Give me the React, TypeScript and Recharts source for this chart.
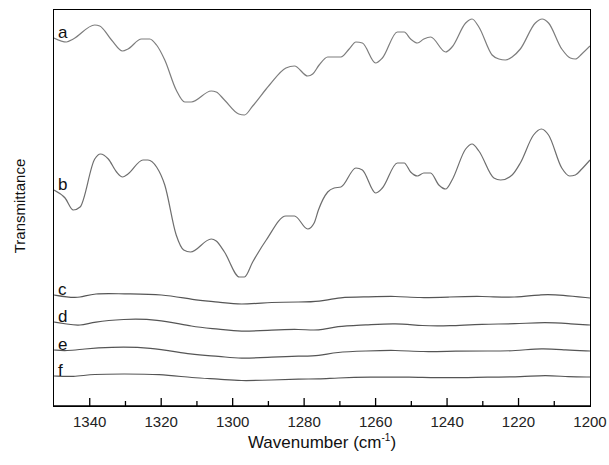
import { LineChart, Line, XAxis, YAxis, ReferenceLine } from "recharts";

// [wavenumber, transmittance (arb.)]
const curveA: [number, number][] = [
  [1350, 368], [1346.5, 364], [1344.6, 367], [1338.6, 381], [1337.2, 380], [1333.9, 366], [1330.8, 355],
  [1329.3, 357], [1325.5, 367], [1323.2, 367], [1321.3, 361], [1319, 346], [1315.8, 316], [1313.4, 304],
  [1311.6, 304], [1306, 315], [1304.6, 314], [1302.3, 306], [1298.3, 292], [1296.7, 291], [1294.4, 300],
  [1289.7, 321], [1285.1, 338], [1282.7, 340], [1279, 330], [1277.6, 332], [1275.8, 341], [1273.4, 349],
  [1269.7, 349], [1267.4, 357], [1265.5, 364], [1263.7, 363], [1260, 343], [1258.1, 348], [1253.9, 374],
  [1252, 374], [1250.2, 367], [1248.3, 363], [1246.5, 367], [1244.6, 369], [1240.4, 354], [1238.6, 359],
  [1234.8, 383], [1233, 387], [1231.1, 379], [1227.4, 351], [1225.5, 347], [1223.7, 346], [1221.8, 349],
  [1219.5, 357], [1215.3, 383], [1213.4, 387], [1211.6, 383], [1207.9, 357], [1205.5, 348], [1204.1, 347],
  [1202.3, 352], [1200, 360],
];

const curveB: [number, number][] = [
  [1350, 216], [1346.9, 208], [1344.6, 196], [1342.7, 199], [1338.6, 247], [1337, 252], [1334.8, 247],
  [1332.5, 234], [1330.8, 229], [1329.3, 232], [1325.1, 246], [1323.7, 246], [1321.3, 239], [1319, 221],
  [1315.8, 171], [1313.7, 156], [1311.8, 154], [1306, 167], [1304.6, 165], [1302.3, 154], [1298.1, 129],
  [1296.7, 129], [1294.4, 144], [1290.6, 166], [1285.1, 190], [1282.7, 190], [1279, 177], [1277.2, 183],
  [1276, 196], [1273.4, 214], [1271.6, 218], [1269.7, 219], [1265.5, 238], [1263.7, 236], [1260, 213],
  [1258.1, 218], [1253.9, 243], [1252, 243], [1250.2, 234], [1248.3, 230], [1246.5, 233], [1244.6, 233],
  [1242.3, 221], [1240.4, 217], [1238.6, 226], [1234.8, 257], [1233, 262], [1231.1, 255], [1226.9, 228],
  [1225, 226], [1221.8, 231], [1219.5, 243], [1215.8, 271], [1213.6, 277], [1211.6, 271], [1207.9, 238],
  [1205.7, 230], [1204.1, 231], [1202.3, 237], [1200, 246],
];

const curveC: [number, number][] = [
  [1350, 111], [1346.5, 109], [1342.7, 108], [1339, 113], [1330.7, 112], [1319.5, 112], [1311.1, 106],
  [1303.7, 104], [1298.1, 101], [1288.8, 104], [1281.3, 104], [1275.8, 104], [1270.2, 109], [1261.8, 109],
  [1254.4, 110], [1247.9, 108], [1239.5, 109], [1230.2, 110], [1220.9, 108], [1213.4, 112], [1207.9, 111],
  [1200, 108],
];

const curveD: [number, number][] = [
  [1350, 84], [1346.5, 82], [1342.7, 80], [1339, 84], [1330.7, 87], [1321.3, 87], [1311.1, 79],
  [1303.7, 77], [1298.1, 74], [1288.8, 76], [1281.3, 77], [1275.8, 75], [1271.1, 80], [1262.7, 81],
  [1254.4, 83], [1246.9, 80], [1239.5, 80], [1230.2, 82], [1220.9, 82], [1212.5, 84], [1205, 82],
  [1200, 81],
];

const curveE: [number, number][] = [
  [1350, 56], [1346.5, 55], [1341.8, 57], [1334.4, 59], [1323.2, 59], [1311.1, 51], [1303.7, 50],
  [1298.1, 47], [1288.8, 49], [1281.3, 50], [1275.8, 50], [1271.1, 54], [1262.7, 55], [1254.4, 56],
  [1246.9, 54], [1237.6, 55], [1228.3, 55], [1220.9, 55], [1213.4, 58], [1206.9, 56], [1200, 55],
];

const curveF: [number, number][] = [
  [1350, 30], [1344.6, 29], [1339, 32], [1330.7, 32], [1320.4, 32], [1311.1, 28], [1303.7, 27],
  [1298.1, 25], [1288.8, 26], [1281.3, 27], [1275.8, 27], [1271.1, 28], [1261.8, 29], [1250.6, 29],
  [1239.5, 28], [1228.3, 29], [1219, 29], [1212.5, 31], [1206, 29], [1200, 29],
];

const seriesNames = ["a", "b", "c", "d", "e", "f"];
const majorTicks = [1340, 1320, 1300, 1280, 1260, 1240, 1220, 1200];
const minorTicks = [1330, 1310, 1290, 1270, 1250, 1230, 1210];

const FONT = "'Liberation Sans', Arial, sans-serif";
const Y_MAX = 396;

const toPoints = (pts: [number, number][]) => pts.map(([w, v]) => ({ w, v }));

const series = [
  { name: seriesNames[0], data: toPoints(curveA), color: "#7d7d7d", curve: "monotone" },
  { name: seriesNames[1], data: toPoints(curveB), color: "#6e6e6e", curve: "monotone" },
  { name: seriesNames[2], data: toPoints(curveC), color: "#555", curve: "basis" },
  { name: seriesNames[3], data: toPoints(curveD), color: "#555", curve: "basis" },
  { name: seriesNames[4], data: toPoints(curveE), color: "#555", curve: "basis" },
  { name: seriesNames[5], data: toPoints(curveF), color: "#555", curve: "basis" },
];

const curveLabel = (name: string) => (p: any) =>
  p.index === 0 ? (
    <text x={p.x + 4} y={p.y} fontSize={17} fontFamily={FONT} fill="#111">
      {name}
    </text>
  ) : (
    <g />
  );

export default function App() {
  return (
    <div style={{ position: "absolute", left: 0, top: 0, width: 609, height: 465, background: "#fff" }}>
      <LineChart width={609} height={465} margin={{ top: 10, right: 19, left: 54, bottom: 0 }}>
        <XAxis
          dataKey="w"
          type="number"
          domain={[1200, 1350]}
          reversed
          allowDataOverflow
          ticks={majorTicks}
          tickLine={false}
          tickSize={0}
          tickMargin={10}
          height={59}
          axisLine={{ stroke: "#000", strokeWidth: 1.5 }}
          tick={{ fontSize: 15, fill: "#222", fontFamily: FONT }}
          label={{
            content: (props: any) => {
              const vb = props.viewBox;
              return (
                <text x={vb.x + vb.width / 2} y={448} textAnchor="middle" fontSize={17} fontFamily={FONT} fill="#111">
                  Wavenumber (cm
                  <tspan dy={-7} fontSize={10}>-1</tspan>
                  <tspan dy={7}>)</tspan>
                </text>
              );
            },
          }}
        />
        <YAxis
          type="number"
          domain={[0, Y_MAX]}
          allowDataOverflow
          width={0}
          tick={false}
          tickLine={false}
          axisLine={{ stroke: "#000", strokeWidth: 1.5 }}
        />
        {majorTicks
          .filter((t) => t !== 1200)
          .map((t) => (
            <ReferenceLine key={`M${t}`} segment={[{ x: t, y: 0 }, { x: t, y: 8 }]} stroke="#000" strokeWidth={1.3} />
          ))}
        {minorTicks.map((t) => (
          <ReferenceLine key={`m${t}`} segment={[{ x: t, y: 0 }, { x: t, y: 5 }]} stroke="#000" strokeWidth={1.3} />
        ))}
        {series.map((s) => (
          <Line
            key={s.name}
            data={s.data}
            dataKey="v"
            type={s.curve as any}
            stroke={s.color}
            strokeWidth={1.2}
            dot={false}
            activeDot={false}
            label={curveLabel(s.name)}
            isAnimationActive={false}
          />
        ))}
      </LineChart>
      {/* plot frame */}
      <div
        style={{
          position: "absolute",
          left: 53.25,
          top: 9.25,
          width: 537.5,
          height: 397.5,
          boxSizing: "border-box",
          border: "1.5px solid #000",
          pointerEvents: "none",
        }}
      />
      <div
        style={{
          position: "absolute",
          left: 19,
          top: 206,
          transform: "translate(-50%, -50%) rotate(-90deg)",
          fontFamily: FONT,
          fontSize: 15,
          color: "#111",
          whiteSpace: "nowrap",
        }}
      >
        Transmittance
      </div>
    </div>
  );
}
